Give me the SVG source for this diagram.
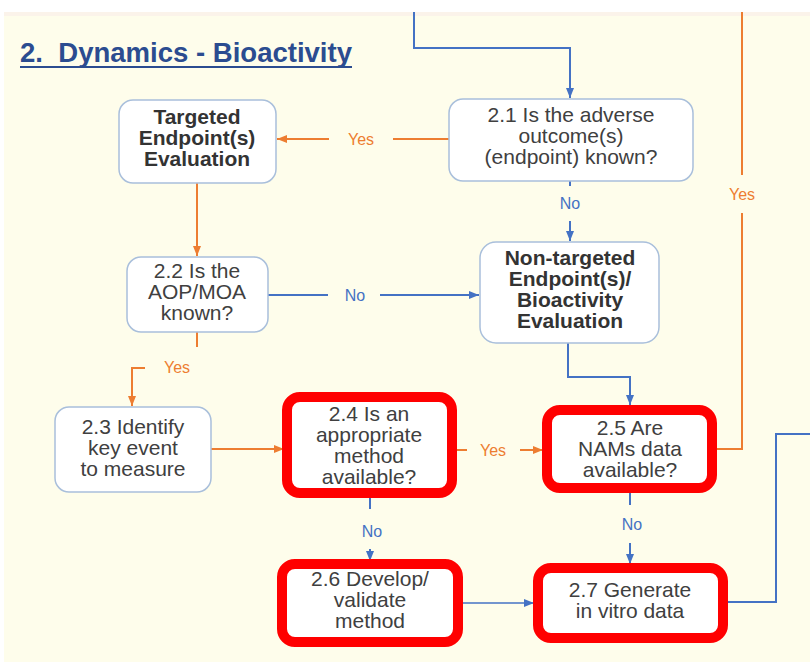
<svg xmlns="http://www.w3.org/2000/svg" width="810" height="662" viewBox="0 0 810 662">
<style>
  .node{fill:#ffffff;stroke:#A9BFDB;stroke-width:1.5}
  .hot{fill:#ffffff;stroke:#FF0000;stroke-width:10}
  .t{font-family:"Liberation Sans","Noto Sans",Arial,sans-serif;font-size:21px;fill:#404040;text-anchor:middle}
  .b{font-weight:bold;fill:#333333}
  .o{fill:none;stroke:#ED7D31;stroke-width:2}
  .bl{fill:none;stroke:#4472C4;stroke-width:2}
  .thin{stroke-width:1.5}
  .lab{font-family:"Liberation Sans","Noto Sans",Arial,sans-serif;font-size:16px;text-anchor:middle}
  .ly{fill:#ED7D31}
  .ln{fill:#4472C4}
</style>
<defs>
  <marker id="ao" markerUnits="userSpaceOnUse" markerWidth="10" markerHeight="10" viewBox="0 0 10 10" refX="10" refY="5" orient="auto">
    <path d="M0,1 L10,5 L0,9 z" fill="#ED7D31"/>
  </marker>
  <marker id="ab" markerUnits="userSpaceOnUse" markerWidth="10" markerHeight="10" viewBox="0 0 10 10" refX="10" refY="5" orient="auto">
    <path d="M0,1 L10,5 L0,9 z" fill="#4472C4"/>
  </marker>
</defs>
<rect x="0" y="0" width="810" height="662" fill="#ffffff"/>
<rect x="4" y="12" width="806" height="650" fill="#FEFDEB"/>
<rect x="4" y="12" width="806" height="4" fill="#FBF3EA"/>

<g id="title">
  <text x="20" y="62" font-family="'Liberation Sans','Noto Sans',Arial,sans-serif" font-size="27" font-weight="bold" fill="#2B4C90" textLength="332" lengthAdjust="spacingAndGlyphs">2.&#160; Dynamics - Bioactivity</text>
  <line x1="20" y1="67" x2="352" y2="67" stroke="#2B4C90" stroke-width="2"/>
</g>

<g id="connectors">
  <path class="bl" d="M414,12 V48 H570 V98" marker-end="url(#ab)"/>
  <path class="o" d="M742,12 V175"/>
  <text class="lab ly" x="742" y="200">Yes</text>
  <path class="o" d="M742,213 V449 H713"/>
  <path class="o" d="M449,139 H393"/>
  <text class="lab ly" x="361" y="145">Yes</text>
  <path class="o" d="M329,139 H277" marker-end="url(#ao)"/>
  <path class="bl" d="M570,181 V186"/>
  <text class="lab ln" x="570" y="209">No</text>
  <path class="bl" d="M570,221 V241" marker-end="url(#ab)"/>
  <path class="o" d="M197,183 V256" marker-end="url(#ao)"/>
  <path class="bl" d="M268,295 H328"/>
  <text class="lab ln" x="355" y="301">No</text>
  <path class="bl" d="M380,295 H479" marker-end="url(#ab)"/>
  <path class="o" d="M197,332 V347"/>
  <text class="lab ly" x="177" y="373">Yes</text>
  <path class="o" d="M145,368 H132 V406" marker-end="url(#ao)"/>
  <path class="o" d="M211,449 H284" marker-end="url(#ao)"/>
  <path class="o" d="M457,450 H467"/>
  <text class="lab ly" x="493" y="456">Yes</text>
  <path class="o" d="M520,450 H543" marker-end="url(#ao)"/>
  <path class="bl" d="M568,343 V377 H630 V405" marker-end="url(#ab)"/>
  <path class="bl" d="M630,493 V505"/>
  <text class="lab ln" x="632" y="530">No</text>
  <path class="bl" d="M630,543 V564" marker-end="url(#ab)"/>
  <path class="bl" d="M370,498 V509"/>
  <text class="lab ln" x="372" y="537">No</text>
  <path class="bl" d="M370,549 V561" marker-end="url(#ab)"/>
  <path class="bl thin" d="M463,603 H534" marker-end="url(#ab)"/>
  <path class="bl" d="M728,602 H776 V434 H810"/>
</g>

<g id="n21">
  <rect class="node" x="449" y="99" width="244" height="82" rx="14"/>
  <text class="t" x="571" y="122">2.1 Is the adverse</text>
  <text class="t" x="571" y="143">outcome(s)</text>
  <text class="t" x="571" y="164">(endpoint) known?</text>
</g>
<g id="nTargeted">
  <rect class="node" x="119" y="100" width="157" height="83" rx="14"/>
  <text class="t b" x="197" y="124">Targeted</text>
  <text class="t b" x="197" y="145">Endpoint(s)</text>
  <text class="t b" x="197" y="166">Evaluation</text>
</g>
<g id="nNonTargeted">
  <rect class="node" x="480" y="242" width="179" height="101" rx="16"/>
  <text class="t b" x="570" y="265">Non-targeted</text>
  <text class="t b" x="570" y="286">Endpoint(s)/</text>
  <text class="t b" x="570" y="307">Bioactivity</text>
  <text class="t b" x="570" y="328">Evaluation</text>
</g>
<g id="n22">
  <rect class="node" x="127" y="257" width="141" height="75" rx="14"/>
  <text class="t" x="197" y="278">2.2 Is the</text>
  <text class="t" x="197" y="299">AOP/MOA</text>
  <text class="t" x="197" y="320">known?</text>
</g>
<g id="n23">
  <rect class="node" x="55" y="407" width="156" height="85" rx="14"/>
  <text class="t" x="133" y="434">2.3 Identify</text>
  <text class="t" x="133" y="455">key event</text>
  <text class="t" x="133" y="476">to measure</text>
</g>
<g id="n24">
  <rect class="hot" x="287" y="397" width="165" height="96" rx="13"/>
  <text class="t" x="369" y="421">2.4 Is an</text>
  <text class="t" x="369" y="442">appropriate</text>
  <text class="t" x="369" y="463">method</text>
  <text class="t" x="369" y="484">available?</text>
</g>
<g id="n25">
  <rect class="hot" x="547" y="410" width="165" height="78" rx="13"/>
  <text class="t" x="630" y="435">2.5 Are</text>
  <text class="t" x="630" y="456">NAMs data</text>
  <text class="t" x="630" y="477">available?</text>
</g>
<g id="n26">
  <rect class="hot" x="282" y="564" width="176" height="78" rx="13"/>
  <text class="t" x="370" y="586">2.6 Develop/</text>
  <text class="t" x="370" y="607">validate</text>
  <text class="t" x="370" y="628">method</text>
</g>
<g id="n27">
  <rect class="hot" x="538" y="568" width="185" height="70" rx="13"/>
  <text class="t" x="630" y="597">2.7 Generate</text>
  <text class="t" x="630" y="618">in vitro data</text>
</g>
</svg>
